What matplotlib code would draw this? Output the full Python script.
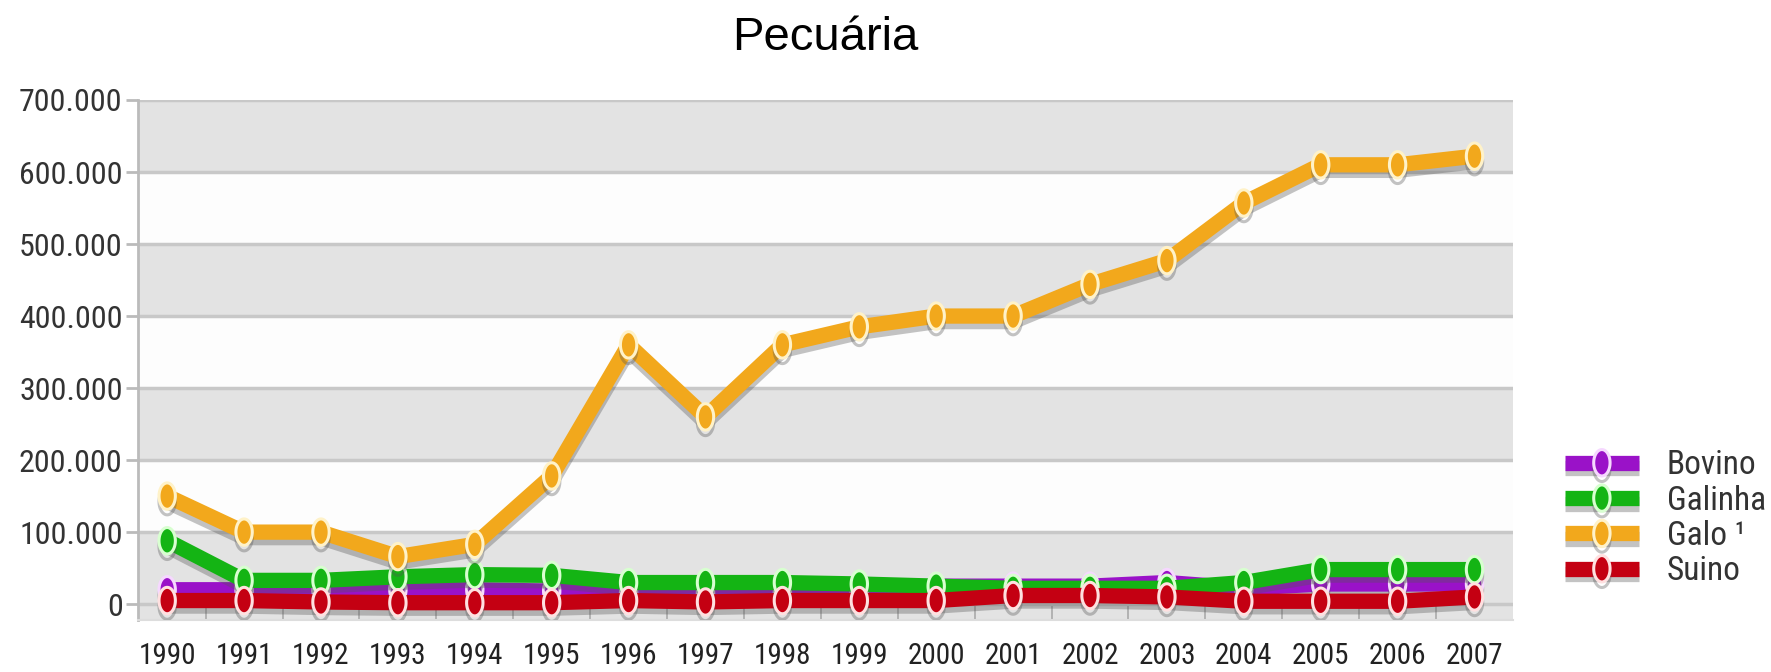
import matplotlib
matplotlib.use("Agg")
import matplotlib.pyplot as plt
import matplotlib.patheffects as pe
from matplotlib.path import Path
from matplotlib.patches import Rectangle
import numpy as np

years = [1990, 1991, 1992, 1993, 1994, 1995, 1996, 1997, 1998, 1999,
         2000, 2001, 2002, 2003, 2004, 2005, 2006, 2007]
bovino = [20000, 20000, 20000, 20000, 20000, 18000, 15000, 15000, 15000, 15000,
          25000, 25000, 25000, 30000, 22000, 28000, 28000, 28000]
galinha = [88000, 33000, 33000, 38000, 41000, 40000, 30000, 30000, 30000, 28000,
           25000, 22000, 22000, 22000, 30000, 48000, 48000, 48000]
galo = [150000, 100000, 100000, 66000, 83000, 178000, 360000, 260000, 360000, 385000,
        400000, 400000, 444000, 477000, 557000, 610000, 610000, 622000]
suino = [5000, 5000, 3000, 2000, 2000, 2000, 5000, 3000, 5000, 5000,
         5000, 12000, 12000, 10000, 4000, 4000, 4000, 10000]

series_names = ["Bovino", "Galinha", "Galo ¹", "Suino"]
series_values = [bovino, galinha, galo, suino]
colors = ["#9a12c8", "#14b414", "#f2a81c", "#c40012"]
edge_colors = ["#f6d8ff", "#d8ffd0", "#fff2c8", "#ffe0e0"]

ytick_vals = [0, 100000, 200000, 300000, 400000, 500000, 600000, 700000]
ytick_labels = ["0", "100.000", "200.000", "300.000", "400.000", "500.000", "600.000", "700.000"]
title = "Pecuária"

narrow = ["Roboto Condensed", "Liberation Sans", "DejaVu Sans"]

t = np.linspace(0, 2 * np.pi, 60)
ell = Path(np.column_stack([0.62 * np.cos(t), np.sin(t)]), closed=True)

fig = plt.figure(figsize=(17.71, 6.72), dpi=100)
ax = fig.add_axes([0.0779, 0.0774, 0.7764, 0.7738])
ax.patch.set_visible(False)

ymin, ymax = -22000, 700000
x0, x1 = 1989.62, 2007.5
ax.set_xlim(x0, x1)
ax.set_ylim(ymin, ymax)

gray_bands = [(ymin, 100000), (200000, 300000), (400000, 500000), (600000, 700000)]
white_bands = [(100000, 200000), (300000, 400000), (500000, 600000)]
for lo, hi in gray_bands:
    ax.add_patch(Rectangle((x0, lo), x1 - x0, hi - lo, facecolor="#e3e3e3",
                           edgecolor="none", zorder=0.1))
for lo, hi in white_bands:
    ax.add_patch(Rectangle((x0, lo), x1 - x0, hi - lo, facecolor="#fdfdfd",
                           edgecolor="none", zorder=0.1))
for v in ytick_vals:
    ax.axhline(v, color="#c8c8c8", lw=2.5, zorder=0.5)

for i, (name, vals, c, ec) in enumerate(zip(series_names, series_values, colors, edge_colors)):
    ax.plot(years, vals, color=c, lw=11, solid_capstyle="butt", zorder=2 + i,
            marker=ell, markersize=19, markerfacecolor=c, markeredgecolor=ec,
            markeredgewidth=2.2, label=name,
            path_effects=[pe.SimpleLineShadow(offset=(0, -4), shadow_color="#555555", alpha=0.35),
                          pe.Normal()])

ax.set_yticks(ytick_vals)
ax.set_yticklabels(ytick_labels, family=narrow, fontsize=23, color="#333333")
ax.set_xticks(years)
ax.set_xticklabels([str(y) for y in years], family=narrow, fontsize=21, color="#222222")
ax.set_xticks([y + 0.5 for y in years[:-1]], minor=True)
ax.tick_params(axis="y", length=9, color="#bbbbbb", width=2, pad=2)
ax.tick_params(axis="x", which="major", length=0, pad=16)
ax.tick_params(axis="x", which="minor", length=10, direction="in", color="#aaaaaa", width=1.2)

for s in ["top", "right"]:
    ax.spines[s].set_visible(False)
ax.spines["left"].set_color("#bbbbbb")
ax.spines["left"].set_linewidth(2)
ax.spines["bottom"].set_color("#dddddd")
ax.spines["bottom"].set_linewidth(1.5)

ax.set_title(title, fontsize=34, family=["Liberation Sans", "DejaVu Sans"], pad=36)

leg = ax.legend(loc="upper left", bbox_to_anchor=(1.038, 0.328), frameon=False,
                prop={"family": narrow, "size": 24}, handlelength=2.2,
                labelspacing=0.1, handletextpad=0.85, borderaxespad=0, borderpad=0)
for txt in leg.get_texts():
    txt.set_color("#333333")

fig.savefig("out.png", dpi=100)
